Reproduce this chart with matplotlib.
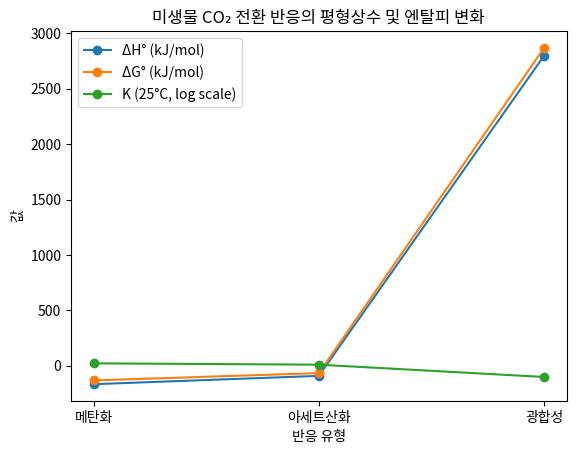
import matplotlib
matplotlib.use("Agg")
import matplotlib.pyplot as plt

plt.rcParams['font.family'] = ['Noto Sans CJK KR', 'DejaVu Sans']
plt.rcParams['axes.unicode_minus'] = False

categories = ["메탄화", "아세트산화", "광합성"]
delta_h = [-165, -90, 2800]
delta_g = [-131, -65, 2870]
log_k = [23, 11, -100]

fig = plt.figure(figsize=(5.76, 4.54), dpi=100)
W, H = 576, 454
ax = fig.add_axes([71 / W, (H - 401) / H, 495.7 / W, 370 / H])

ax.plot(categories, delta_h, marker='o', label="ΔH° (kJ/mol)")
ax.plot(categories, delta_g, marker='o', label="ΔG° (kJ/mol)")
ax.plot(categories, log_k, marker='o', label="K (25°C, log scale)")

ax.set_title("미생물 CO₂ 전환 반응의 평형상수 및 엔탈피 변화")
ax.set_xlabel("반응 유형")
ax.set_ylabel("값")
ax.legend(loc='upper left')

fig.savefig("out.png", dpi=100)
